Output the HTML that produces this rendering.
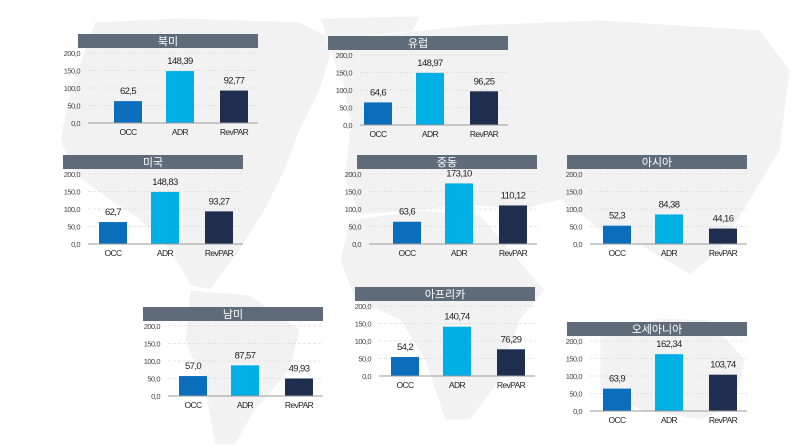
<!DOCTYPE html>
<html><head><meta charset="utf-8"><style>
html,body{margin:0;padding:0;background:#fff;}
svg{display:block;font-family:"Liberation Sans","Noto Sans CJK KR",sans-serif;}
</style></head><body>
<svg id="c" width="800" height="448" viewBox="0 0 800 448">
<g fill="#f2f2f2" stroke="#fff" stroke-width="1">
<polygon points="95,22 180,18 300,22 335,40 320,90 300,130 285,170 265,210 240,250 210,290 190,285 170,250 140,220 110,200 75,175 60,140 70,90"/>
<polygon points="320,18 420,16 400,60 370,95 340,80"/>
<polygon points="190,290 250,295 300,330 290,370 255,410 235,445 215,445 205,390 185,340"/>
<polygon points="335,40 470,25 600,20 760,30 790,70 780,150 750,200 720,250 690,275 640,245 600,230 560,200 520,210 470,205 420,210 360,215 345,180 350,120"/>
<polygon points="350,220 420,210 480,215 510,250 545,290 520,320 500,380 470,420 445,420 425,360 400,320 355,300 340,260"/>
<polygon points="600,335 660,318 710,320 745,360 735,405 700,420 640,410 600,390"/>
</g>
<g id="panels"></g>
</svg>
<script>
const categories=["OCC","ADR","RevPAR"];
const regions=["북미","유럽","미국","중동","아시아","남미","아프리카","오세아니아"];
const occValues=[62.5,64.6,62.7,63.6,52.3,57.0,54.2,63.9];
const adrValues=[148.39,148.97,148.83,173.10,84.38,87.57,140.74,162.34];
const revparValues=[92.77,96.25,93.27,110.12,44.16,49.93,76.29,103.74];
const valueLabels=[["62,5","148,39","92,77"],["64,6","148,97","96,25"],["62,7","148,83","93,27"],["63,6","173,10","110,12"],["52,3","84,38","44,16"],["57,0","87,57","49,93"],["54,2","140,74","76,29"],["63,9","162,34","103,74"]];
const yTicks=[0,50,100,150,200];
const yTickLabels=["0,0","50,0","100,0","150,0","200,0"];
const regionNames=["north-america","europe","usa","middle-east","asia","south-america","africa","oceania"];
const layout=[[78,34,80],[328,36,352],[63,155,80],[357,155,361],[567,155,582],[143,307,160],[355,287,371],[567,322,582]];
const colors=["#0a6ebd","#00afe6","#1f2d4f"];
const NS="http://www.w3.org/2000/svg";
const root=document.getElementById('panels');
function mk(t,a,p){const e=document.createElementNS(NS,t);for(const k in a)e.setAttribute(k,a[k]);p.appendChild(e);return e;}
regions.forEach((r,i)=>{
  const [tx,ty,lr]=layout[i];
  const g=mk('g',{},root);
  
  
  const bar=mk('rect',{x:tx,y:ty,width:180,height:14,fill:'#5f6b78'},g);
  
  
  const tt=mk('text',{x:tx+90,y:ty+11,'text-anchor':'middle','font-size':11,fill:'#fff'},g);
  tt.textContent=r;
  
  
  const base=ty+89, top=ty+19, h=base-top;
  const y=v=>base-v/200*h;
  yTicks.forEach((t,k)=>{
    if(t>0){const gl=mk('line',{x1:lr+8,x2:tx+180,y1:y(t),y2:y(t),stroke:'#ddd','stroke-dasharray':'3,2','stroke-width':0.7},g);
      }
    const tl=mk('text',{x:lr,y:y(t)+3,'text-anchor':'end','font-size':7.5,fill:'#444','letter-spacing':'-0.5'},g);
    tl.textContent=yTickLabels[k];
    
    
  });
  const vals=[occValues[i],adrValues[i],revparValues[i]];
  const offs=[36,88,142];
  vals.forEach((v,k)=>{
    const bx=tx+offs[k];
    const b=mk('rect',{x:bx,y:y(v),width:28,height:base-y(v),fill:colors[k]},g);
    
    
    const vl=mk('text',{x:bx+14,y:y(v)-7,'text-anchor':'middle','font-size':9.5,fill:'#222','letter-spacing':'-0.6'},g);
    vl.textContent=valueLabels[i][k];
    
    
    const cl=mk('text',{x:bx+14,y:base+12,'text-anchor':'middle','font-size':8.5,fill:'#222','letter-spacing':'-0.6'},g);
    cl.textContent=categories[k];
    
    
  });
  const ax=mk('line',{x1:lr+8,x2:tx+180,y1:base,y2:base,stroke:'#999','stroke-width':1},g);
  
  
});
</script>
</body></html>
